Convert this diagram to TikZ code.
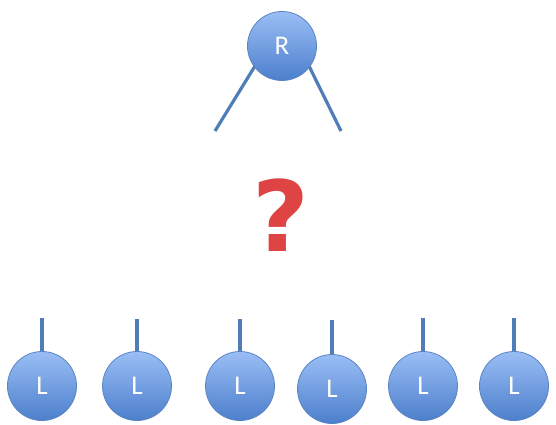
\documentclass[tikz,border=0pt]{standalone}
\usepackage{fontspec}
\setmainfont{Carlito}
\newfontfamily\qfont{DejaVu Sans}
\begin{document}
\begin{tikzpicture}[x=1pt,y=-1pt,
  treenode/.style={circle,draw=nodeedge,line width=0.8pt,minimum size=69pt,inner sep=0pt,
    top color=nodetop,bottom color=nodebot,text=white,font=\fontsize{27}{27}\selectfont},
  edge/.style={draw=edgeblue,line width=3.2pt},
  qmark/.style={font=\qfont\fontsize{98}{98}\bfseries\selectfont}]
\definecolor{nodetop}{HTML}{9ABEF5}
\definecolor{nodebot}{HTML}{4C7FCC}
\definecolor{nodeedge}{HTML}{5A84C2}
\definecolor{edgeblue}{HTML}{4F7DB8}
\definecolor{qred}{HTML}{DE4444}
\useasboundingbox (0,0) rectangle (556,425);
\fill[white] (0,0) rectangle (556,425);
% root
\coordinate (ra) at (215,131);
\coordinate (rb) at (341,131);
\draw[edge] (255,66) -- (ra);
\draw[edge] (309,66) -- (rb);
\node[treenode] (R) at (282,46) {R};
% question mark
\node[qmark,text=qred] (q) at (281,215) {?};
% leaves
\foreach \i/\x/\y/\t in {1/42/386/318, 2/137/386/319, 3/240/386/319, 4/332/389/320, 5/423/386/318, 6/514/386/318}{
  \coordinate (t\i) at (\x,\t);
  \draw[edge] (t\i) -- (\x,\y-25);
  \node[treenode] (L\i) at (\x,\y) {L};
}
\end{tikzpicture}
\end{document}
